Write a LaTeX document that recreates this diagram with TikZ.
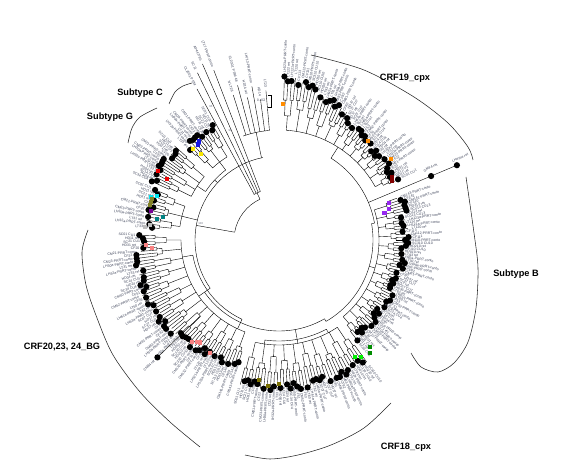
\documentclass[tikz,border=0pt]{standalone}
\usepackage{fontspec}
\setsansfont{Liberation Sans}
\usetikzlibrary{positioning}
\definecolor{lblgray}{RGB}{60,66,88}
\definecolor{myyel}{RGB}{250,232,0}
\definecolor{myblue}{RGB}{20,20,230}
\definecolor{myred}{RGB}{240,0,0}
\definecolor{mycyan}{RGB}{0,230,240}
\definecolor{myolive}{RGB}{130,130,40}
\definecolor{mypurple}{RGB}{120,0,150}
\definecolor{myteal}{RGB}{0,130,130}
\definecolor{mylgray}{RGB}{190,190,190}
\definecolor{mypink}{RGB}{250,130,130}
\definecolor{myolivb}{RGB}{120,110,0}
\definecolor{mygreen}{RGB}{0,240,0}
\definecolor{mydkgreen}{RGB}{0,140,0}
\definecolor{myviolet}{RGB}{150,40,240}
\definecolor{mydkred}{RGB}{130,0,0}
\definecolor{myorange}{RGB}{255,140,0}
\tikzset{
  every picture/.style={line width=0.4pt},
  brk/.style={line width=0.55pt,black!85},
  clab/.style={font=\sffamily\bfseries\fontsize{9.2}{11}\selectfont,inner sep=0},
  tlbl/.style={font=\sffamily\fontsize{3.5}{3.5}\selectfont,text=lblgray,inner sep=0.2pt},
  bsv/.style={font=\sffamily\fontsize{2.8}{2.8}\selectfont,text=lblgray!80,inner sep=0},
  msq/.style={minimum size=4.4pt,inner sep=0,outer sep=0},
}
% tip names
\newcommand{\lname}[3]{\ifcase#1 LT#2#3~ret\or CM#2#3-PRRT-conto\or HD#3#2~ret\or LH#2#3a-PRRT-conto\or CF#2#3\or SC#3#2~CU#2\fi}
% radial tip label: angle, radius, text, name
\newcommand{\tiplbl}[4]{%
  \pgfmathsetmacro{\tAn}{mod(#1+720,360)}%
  \ifdim\tAn pt>90pt\relax
    \ifdim\tAn pt<270pt\relax
      \node[tlbl,rotate=\tAn+180,anchor=east] (#4) at (#1:#2) {#3};%
    \else
      \node[tlbl,rotate=\tAn,anchor=west] (#4) at (#1:#2) {#3};%
    \fi
  \else
    \node[tlbl,rotate=\tAn,anchor=west] (#4) at (#1:#2) {#3};%
  \fi}
% clade: first angle, step, groups of 4, base radius, tip radius (may use \tAng), name, dot offset
\newcommand{\clade}[7]{%
  \pgfmathsetmacro{\cFirst}{#1+1.5*#2}%
  \pgfmathsetmacro{\cLast}{#1+(#3-1)*4*#2+1.5*#2}%
  \draw (\cFirst:#4) arc[start angle=\cFirst,end angle=\cLast,radius=#4];%
  \foreach \g in {1,...,#3}{%
    \pgfmathsetmacro{\tGa}{#1+(\g-1)*4*#2}%
    \pgfmathsetmacro{\tGm}{\tGa+1.5*#2}%
    \pgfmathsetmacro{\tCa}{\tGa+0.5*#2}%
    \pgfmathsetmacro{\tCb}{\tGa+2.5*#2}%
    \pgfmathsetmacro{\tCd}{\tGa+#2}%
    \pgfmathsetmacro{\tCe}{\tGa+2*#2}%
    \pgfmathsetmacro{\tCf}{\tGa+3*#2}%
    \pgfmathsetmacro{\tAng}{\tGm}%
    \pgfmathsetmacro{\tRn}{#5}%
    \pgfmathsetmacro{\tRg}{#4+(0.28+0.09*mod(\g,3))*(\tRn-#4)}%
    \pgfmathsetmacro{\tRc}{#4+(0.58+0.07*mod(\g,2))*(\tRn-#4)}%
    \pgfmathsetmacro{\tRb}{\tRg-3}%
    \pgfmathtruncatemacro{\tBs}{mod(\g,4)}%
    \draw (\tGm:#4) -- (\tGm:\tRg) (\tCa:\tRg) arc[start angle=\tCa,end angle=\tCb,radius=\tRg]
          (\tCa:\tRg) -- (\tCa:\tRc) (\tCb:\tRg) -- (\tCb:\tRc)
          (\tGa:\tRc) arc[start angle=\tGa,end angle=\tCd,radius=\tRc]
          (\tCe:\tRc) arc[start angle=\tCe,end angle=\tCf,radius=\tRc];%
    \ifodd\g\else
      \node[bsv,rotate=\tGm] (#6-b\g) at (\tGm:\tRb) {\ifcase\tBs 100\or 98\or 87\or 99\fi};%
    \fi
    \foreach \k in {0,1,2,3}{%
      \pgfmathsetmacro{\tAng}{\tGa+\k*#2}%
      \pgfmathsetmacro{\tRt}{#5+3.5*sin(\g*131+\k*77)}%
      \pgfmathsetmacro{\tRl}{\tRt+3.6}%
      \pgfmathtruncatemacro{\tHd}{mod(\g*3+\k*5+#7,7)}%
      \pgfmathtruncatemacro{\tLid}{mod(\g*5+\k*3,6)}%
      \draw (\tAng:\tRc) -- (\tAng:\tRt);%
      \ifnum\tHd>1 \fill (\tAng:\tRt) circle[radius=3.1];\fi
      \tiplbl{\tAng}{\tRl}{\lname{\tLid}{\g}{\k}}{#6-\g-\k}%
    }%
  }}

\begin{document}
\begin{tikzpicture}[x=1pt,y=1pt]
\useasboundingbox (0,0) rectangle (562,469);
\begin{scope}[shift={(279,229)}]
% root and backbone
\draw (115:45) arc[start angle=115,end angle=170,radius=45];
\draw (170:45) -- (170:84);
\node[bsv] (bs0) at (168:80) {100};
\draw (101:84) arc[start angle=101,end angle=215,radius=84];
\draw (137:84) -- (137:88) (127.3:88) arc[start angle=127.3,end angle=146.6,radius=88];
\draw (127.3:88) -- (127.3:98) (146.6:88) -- (146.6:98);
\draw (166.25:84) -- (166.25:100);
\draw (215:84) -- (215:98);
\draw (215:91) arc[start angle=215,end angle=300,radius=91];
\draw (190:87.5) arc[start angle=190,end angle=245,radius=87.5] (190:87.5) -- (190:98) (245:87.5) -- (245:98);
\draw (280.35:91) -- (280.35:105);
\draw (300:91) -- (300:94) (300:94) arc[start angle=300,end angle=370,radius=94];
\draw (262:101) arc[start angle=262,end angle=298,radius=101] (262:101) -- (262:105) (298:101) -- (298:105);
\draw (343.75:94) -- (343.75:100);
\draw (370:94) -- (370:97) (370:97) arc[start angle=370,end angle=417.55,radius=97];
\draw (417.55:97) -- (417.55:110);
% outgroup subtypes, long branches
\draw (115:45) -- (115:52) (111:52) arc[start angle=111,end angle=119,radius=52];
\foreach \sa/\sr/\nm [count=\n] in {111/182/LT17-PRRT-conto, 113.5/192/AP447785, 116/186/SC11, 118.5/172/CL2001~P~RM}{
  \draw (\sa:52) -- (\sa:\sr);
  \tiplbl{\sa}{\sr+3}{\nm}{og\n}
}
\node[bsv] (bs1) at (114:120) {96};
\node[bsv] (bs2) at (117:150) {95};
% sparse tips at the top
\draw (102:84) -- (102:110) (95:110) arc[start angle=95,end angle=109,radius=110];
\foreach \sa/\sr/\nm [count=\n] in {95/150/LT23, 97.5/142/HD14, 100/156/LH713-PRRT-conto, 102.5/146/HD14~ret, 105/160/CL2001~P~RM~48, 107.5/152/N~LT26}{
  \draw (\sa:110) -- (\sa:\sr);
  \tiplbl{\sa}{\sr+3}{\nm}{tp\n}
}
% clades
\clade{120}{1.33}{3}{98}{130}{cC}{2}
\clade{138}{1.15}{4}{98}{138}{cG}{4}
\clade{158}{1.5}{3}{100}{131}{cM}{1}
\clade{178}{1.34}{14}{98}{138+6*sin(4*\tAng)}{cBG}{3}
\clade{255}{1.3}{10}{105}{147}{c18}{5}
\clade{-52}{1.3}{14}{100}{126+3*sin(3*\tAng)}{cB}{6}
\clade{27}{1.3}{12}{110}{131+max(0,\tAng-50)*0.85}{c19}{0}
% single long branches
\draw (224:110) -- (224:169);
\fill (224:169) circle[radius=3.1];
\tiplbl{224}{173}{CM84~ret}{lbg}
\draw (382.8:97) -- (382.8:193);
\fill (22.8:165) circle[radius=3.1] (22.8:193) circle[radius=3.1];
\tiplbl{25.5}{160}{GMF4~ret}{lgm}
\tiplbl{24.3}{190}{LHeyne~ret}{lhe}
% coloured markers
\foreach \scol/\sa/\sr [count=\n] in {myyel/133.4/125, myyel/132.2/116, myblue/129/127, myblue/130.3/125,
  myred/150.3/139, myred/151.4/127.5, mycyan/161.4/135, mycyan/160.2/129.7,
  myolive/162.2/133.5, myolive/163.5/133.5, myolive/164.8/133.5, mypurple/167.2/131,
  myteal/170.2/124, myteal/168.8/118, mylgray/174.5/134.6, mylgray/173.4/130,
  mypink/182.2/133, mypink/183.6/127, mypink/229.5/134, mypink/231.2/131, mypink/232.4/129.5, mypink/238.6/132.4,
  myolivb/261.9/141.4, myolivb/265.7/146.4, myolivb/270/144,
  mygreen/303/139.5, mygreen/305/142.9, mydkgreen/310.4/140.5, mydkgreen/308.8/145,
  myviolet/18.6/116, myviolet/15.7/114, myviolet/14.3/109,
  mydkred/29.1/129, mydkred/27.6/127.6, myorange/48/133, myorange/35.9/138, myorange/88.3/136}{
  \node[msq,fill=\scol] (sq\n) at (\sa:\sr) {};
}
\end{scope}
% brackets and clade names, in picture pixels
\begin{scope}[shift={(0,469)},y=-1pt]
\draw[brk] plot[smooth] coordinates {(311,55) (364,70) (414,97) (448,123) (468,147) (473,160)};
\draw[brk] plot[smooth] coordinates {(466,177) (474,233) (478,268) (476,308) (468,342) (454,363) (438,372) (421,367) (411,353)};
\draw[brk] plot[smooth] coordinates {(391,403) (364,428) (331,445) (298,455) (270,459) (245,455)};
\draw[brk] plot[smooth] coordinates {(88,230) (82,252) (86,285) (97,318) (113,355) (140,392) (170,422) (200,447)};
\draw[brk] plot[smooth] coordinates {(128,143) (132,128) (140,117) (157,108)};
\draw[brk] plot[smooth] coordinates {(169,104) (175,92) (183,86) (192,83)};
\node[clab] (n19) at (405,78) {CRF19\_cpx};
\node[clab] (nB) at (516,274) {Subtype B};
\node[clab] (n18) at (406,447) {CRF18\_cpx};
\node[clab] (nBG) at (62,347) {CRF20,23, 24\_BG};
\node[clab] (nG) at (110,117) {Subtype G};
\node[clab] (nC) at (140,93) {Subtype C};
% scale bar
\node[font=\ttfamily\fontsize{4}{4}\selectfont,text=lblgray] (scl) at (261,100) {0.02};
\draw (268,95) -- (271,95) -- (271,107) -- (268,107);
\end{scope}
\end{tikzpicture}
\end{document}
